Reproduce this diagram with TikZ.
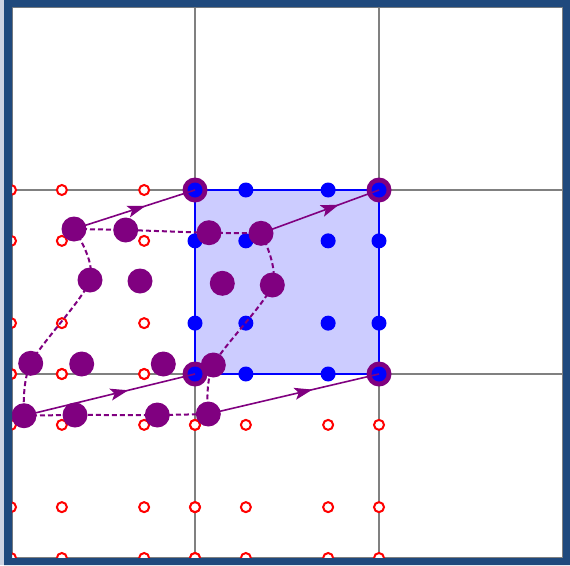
\documentclass[tikz,border=0pt]{standalone}
\usetikzlibrary{arrows.meta,decorations.markings}
\definecolor{framec}{HTML}{1F497D}
\definecolor{stripc}{HTML}{CDD3E2}
\definecolor{lightb}{HTML}{CCCCFF}
\definecolor{gridc}{HTML}{808080}
\definecolor{pur}{HTML}{800080}
\begin{document}
\begin{tikzpicture}[x=1pt,y=-1pt,
  reddot/.style={circle,draw=red,line width=2pt,fill=white,minimum size=10pt,inner sep=0pt},
  bluedot/.style={circle,fill=blue,minimum size=15pt,inner sep=0pt},
  purdot/.style={circle,fill=pur,minimum size=25pt,inner sep=0pt},
  ringdot/.style={circle,fill=pur,minimum size=25pt,inner sep=0pt},
  gridline/.style={draw=gridc,line width=2pt},
  cellbox/.style={draw=blue,fill=lightb,line width=2pt},
  edgecurve/.style={draw=pur,line width=2pt,dash pattern=on 5pt off 3pt},
  flowarrow/.style={draw=pur,line width=1.6pt,postaction={decorate},
    decoration={markings,mark=at position #1 with {\arrow{Stealth[length=18pt,width=12pt,inset=4pt]}}}},
]
\useasboundingbox (0,0) rectangle (570,565);
\fill[white] (0,0) rectangle (570,565);
% grid
\draw[gridline] (12,7) rectangle (563,558);
\draw[gridline] (195,7) -- (195,558);
\draw[gridline] (379,7) -- (379,558);
\draw[gridline] (12,190) -- (563,190);
\draw[gridline] (12,374) -- (563,374);
% blue cell
\draw[cellbox] (195,190) rectangle (379,374);
% red GLL points in neighbouring cells
\foreach \ci/\cj in {0/1,0/2,1/2}{
  \foreach \a [count=\ka] in {0,50.86,133.14,184}{
    \foreach \b [count=\kb] in {0,50.86,133.14,184}{
      \node[reddot] (r-\ci\cj-\ka\kb) at ({11+184*\ci+\a},{6+184*\cj+\b}) {};
    }
  }
}
% blue GLL points in the target cell
\foreach \a [count=\ka] in {0,50.86,133.14,184}{
  \foreach \b [count=\kb] in {0,50.86,133.14,184}{
    \node[bluedot] (b-\ka\kb) at ({195+\a},{190+\b}) {};
  }
}
% corners
\node[ringdot] (c1) at (195,190) {};
\node[ringdot] (c2) at (379,190) {};
\node[ringdot] (c3) at (195,374) {};
\node[ringdot] (c4) at (379,374) {};
\node[bluedot] (cb1) at (c1) {};
\node[bluedot] (cb2) at (c2) {};
\node[bluedot] (cb3) at (c3) {};
\node[bluedot] (cb4) at (c4) {};
% departure points
\coordinate (p11) at (74,229);
\coordinate (p12) at (125.7,230);
\coordinate (p13) at (209,232.7);
\coordinate (p14) at (261,233.3);
\coordinate (p21) at (90,280);
\coordinate (p22) at (140,281);
\coordinate (p23) at (222.3,283.3);
\coordinate (p24) at (272.3,285);
\coordinate (p31) at (30.7,363.3);
\coordinate (p32) at (81.7,364);
\coordinate (p33) at (163.3,364);
\coordinate (p34) at (213.3,365);
\coordinate (p41) at (24,415.7);
\coordinate (p42) at (75,415);
\coordinate (p43) at (157.3,415);
\coordinate (p44) at (208.3,414);
% deformed cell edges
\draw[edgecurve] plot[smooth] coordinates {(p11) (p12) (p13) (p14)};
\draw[edgecurve] plot[smooth] coordinates {(p41) (p42) (p43) (p44)};
\draw[edgecurve] plot[smooth] coordinates {(p11) (p21) (p31) (p41)};
\draw[edgecurve] plot[smooth] coordinates {(p14) (p24) (p34) (p44)};
% trajectories
\draw[flowarrow=0.59] (p11) -- (c1.center);
\draw[flowarrow=0.66] (p14) -- (c2.center);
\draw[flowarrow=0.61] (p41) -- (c3.center);
\draw[flowarrow=0.61] (p44) -- (c4.center);
% departure dots
\foreach \i in {1,...,4}{
  \foreach \j in {1,...,4}{
    \node[purdot] (pd\i\j) at (p\i\j) {};
  }
}
% frame
\fill[framec,even odd rule] (4,0) rectangle (570,565) (12,7) rectangle (563,558);
\fill[stripc] (0,0) rectangle (4,565);
\end{tikzpicture}
\end{document}
